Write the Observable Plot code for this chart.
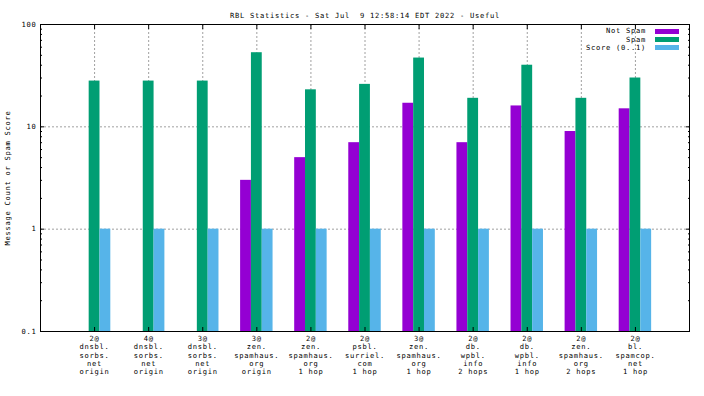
<!DOCTYPE html>
<html><head><meta charset="utf-8">
<script src="https://cdn.jsdelivr.net/npm/d3@7"></script>
<script src="https://cdn.jsdelivr.net/npm/@observablehq/plot@0.6"></script>
<style>
body{margin:0;background:#fff;}
#wrap{position:relative;width:704px;height:396px;background:#fff;}
svg text{white-space:pre;}
.leg{position:absolute;font-family:"DejaVu Sans Mono",monospace;font-size:7.1px;letter-spacing:0.73px;line-height:8px;height:8px;white-space:pre;color:#000;}
.sw{position:absolute;width:24px;height:5px;}
</style></head><body><div id="wrap"></div>
<script>
const title = "RBL Statistics - Sat Jul  9 12:58:14 EDT 2022 - Useful";
const yLabel = "Message Count or Spam Score";
const categories = [
  "2@\ndnsbl.\nsorbs.\nnet\norigin",
  "4@\ndnsbl.\nsorbs.\nnet\norigin",
  "3@\ndnsbl.\nsorbs.\nnet\norigin",
  "3@\nzen.\nspamhaus.\norg\norigin",
  "2@\nzen.\nspamhaus.\norg\n1 hop",
  "2@\npsbl.\nsurriel.\ncom\n1 hop",
  "3@\nzen.\nspamhaus.\norg\n1 hop",
  "2@\ndb.\nwpbl.\ninfo\n2 hops",
  "2@\ndb.\nwpbl.\ninfo\n1 hop",
  "2@\nzen.\nspamhaus.\norg\n2 hops",
  "2@\nbl.\nspamcop.\nnet\n1 hop"
];
const seriesNames = ["Not Spam", "Spam", "Score (0..1)"];
const seriesColors = ["#9400d3", "#009e73", "#56b4e9"];
const notSpam = [0, 0, 0, 3, 5, 7, 17, 7, 16, 9, 15];
const spam    = [28, 28, 28, 53, 23, 26, 47, 19, 40, 19, 30];
const score   = [1, 1, 1, 1, 1, 1, 1, 1, 1, 1, 1];
const yTicks = [0.1, 1, 10, 100];
const yTickLabels = ["0.1", "1", "10", "100"];
const minorMultipliers = [2, 3, 4, 5, 6, 7, 8, 9];

const seriesValues = [notSpam, spam, score];
const rows = [];
seriesValues.forEach((vals, s) => vals.forEach((v, i) => rows.push({i, s, series: seriesNames[s], value: v})));
const idx = categories.map((_, i) => i);
const yMinor = [0.1, 1, 10].flatMap(d => minorMultipliers.map(m => +(d * m).toPrecision(3)));
const barOffset = [-0.3, -0.1, 0.1];
const barWidth = 0.2;
const grid = {stroke: "#a0a0a0", strokeDasharray: "2,2"};

const plot = Plot.plot({
  width: 704, height: 396,
  marginLeft: 40, marginRight: 15, marginTop: 24, marginBottom: 65,
  style: {fontFamily: "DejaVu Sans Mono, monospace", fontSize: "7.1px", letterSpacing: "0.73px", background: "white", color: "black"},
  x: {type: "linear", domain: [-1, categories.length], axis: null},
  y: {type: "log", domain: [0.1, 100], axis: null},
  color: {domain: seriesNames, range: seriesColors},
  marks: [
    Plot.ruleX(idx, {x: d => d, ...grid}),
    Plot.ruleY([1, 10], {y: d => d, ...grid}),
    Plot.rectY(rows.filter(d => d.value > 0), {
      x1: d => d.i + barOffset[d.s],
      x2: d => d.i + barOffset[d.s] + barWidth,
      y1: () => 0.1, y2: "value", fill: "series"
    }),
    Plot.frame({stroke: "black"}),
    Plot.axisY({ticks: yTicks, tickSize: 0, tickPadding: 4, tickFormat: d => yTickLabels[yTicks.indexOf(d)], label: null}),
    Plot.axisY({ticks: yTicks, tickSize: -4, fill: "none", label: null}),
    Plot.axisY({ticks: yMinor, tickSize: -2, fill: "none", label: null}),
    Plot.axisY({anchor: "right", ticks: yTicks, tickSize: -4, fill: "none", label: null}),
    Plot.axisY({anchor: "right", ticks: yMinor, tickSize: -2, fill: "none", label: null}),
    Plot.axisX({ticks: idx, tickSize: 0, tickPadding: 3.5, tickFormat: i => categories[i], lineHeight: 1.173, label: null}),
    Plot.axisX({ticks: idx, tickSize: -4, fill: "none", label: null}),
    Plot.axisX({anchor: "top", ticks: idx, tickSize: -4, fill: "none", label: null}),
    Plot.text([title], {frameAnchor: "top", dy: -12, text: d => d}),
    Plot.text([yLabel], {frameAnchor: "left", textAnchor: "middle", rotate: -90, dx: -32.5, text: d => d})
  ]
});
const wrap = document.getElementById("wrap");
wrap.appendChild(plot);
seriesNames.forEach((name, k) => {
  const cy = 31.2 + 8.35 * k;
  const t = document.createElement("div");
  t.className = "leg";
  t.textContent = name;
  t.style.right = (704 - 646) + "px";
  t.style.top = (cy - 4) + "px";
  wrap.appendChild(t);
  const sw = document.createElement("div");
  sw.className = "sw";
  sw.style.left = "655px";
  sw.style.top = (cy - 2.5) + "px";
  sw.style.background = seriesColors[k];
  wrap.appendChild(sw);
});
</script></body></html>
